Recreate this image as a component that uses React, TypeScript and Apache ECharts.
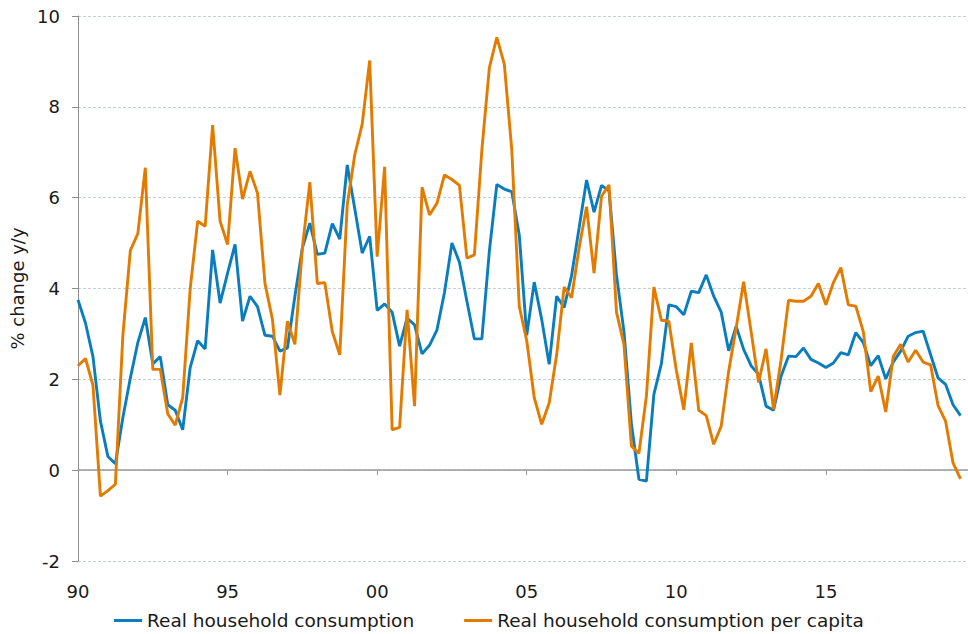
import React, { useEffect, useRef } from 'react';
import * as echarts from 'echarts';

const startYear = 1990;
const quarterCount = 120;
const tickLabels = ['90', '95', '00', '05', '10', '15'];
const seriesNames = ['Real household consumption', 'Real household consumption per capita'];

const consumption = [
  3.75, 3.24, 2.5, 1.08, 0.3, 0.14, 1.16, 2.03, 2.81, 3.36,
  2.34, 2.5, 1.44, 1.32, 0.89, 2.26, 2.85, 2.67, 4.85, 3.68,
  4.34, 4.97, 3.28, 3.83, 3.6, 2.97, 2.95, 2.62, 2.69, 3.83,
  4.89, 5.44, 4.75, 4.78, 5.43, 5.09, 6.72, 5.76, 4.78, 5.15,
  3.52, 3.66, 3.48, 2.73, 3.35, 3.2, 2.56, 2.75, 3.09, 3.91,
  5.0, 4.58, 3.72, 2.89, 2.89, 4.82, 6.29, 6.19, 6.13, 5.18,
  2.97, 4.14, 3.32, 2.33, 3.83, 3.58, 4.29, 5.33, 6.39, 5.68,
  6.27, 6.15, 4.3, 3.05, 1.01, -0.2, -0.24, 1.67, 2.34, 3.64,
  3.6, 3.42, 3.94, 3.91, 4.3, 3.83, 3.48, 2.63, 3.17, 2.66,
  2.3, 2.11, 1.41, 1.32, 2.07, 2.51, 2.5, 2.69, 2.44, 2.36,
  2.26, 2.36, 2.59, 2.54, 3.03, 2.81, 2.3, 2.52, 2.01, 2.38,
  2.62, 2.95, 3.03, 3.06, 2.54, 2.03, 1.89, 1.44, 1.2,
];

const perCapita = [
  2.3, 2.46, 1.87, -0.57, -0.45, -0.31, 2.97, 4.84, 5.21, 6.66,
  2.22, 2.22, 1.24, 0.99, 1.6, 3.99, 5.48, 5.37, 7.6, 5.48,
  4.97, 7.09, 5.97, 6.58, 6.1, 4.11, 3.32, 1.65, 3.28, 2.77,
  4.89, 6.34, 4.11, 4.13, 3.05, 2.54, 5.84, 6.94, 7.62, 9.02,
  4.7, 6.68, 0.89, 0.94, 3.53, 1.41, 6.23, 5.62, 5.88, 6.5,
  6.4, 6.27, 4.67, 4.74, 7.05, 8.86, 9.53, 8.94, 7.05, 3.61,
  2.85, 1.6, 1.01, 1.48, 2.54, 4.03, 3.8, 4.89, 5.8, 4.34,
  6.03, 6.28, 3.48, 2.77, 0.53, 0.37, 1.63, 4.03, 3.3, 3.28,
  2.2, 1.33, 2.8, 1.32, 1.2, 0.57, 0.97, 2.18, 3.13, 4.15,
  3.05, 1.93, 2.67, 1.34, 2.42, 3.74, 3.72, 3.72, 3.83, 4.11,
  3.64, 4.13, 4.46, 3.64, 3.61, 3.05, 1.73, 2.07, 1.28, 2.5,
  2.77, 2.38, 2.64, 2.38, 2.32, 1.42, 1.08, 0.16, -0.19,
];

const categories = Array.from({ length: quarterCount }, (_, i) => {
  const yy = String((startYear + Math.floor(i / 4)) % 100).padStart(2, '0');
  return `${yy}Q${(i % 4) + 1}`;
});

const FONT = 'DejaVu Sans';
const TEXT = '#1a1a1a';
const BLUE = '#0A7DBE';
const ORANGE = '#E27B00';

export default function App() {
  const ref = useRef<HTMLDivElement>(null);

  useEffect(() => {
    if (!ref.current) return;
    const chart = echarts.init(ref.current, undefined, { renderer: 'svg' });
    const option: any = {
      animation: false,
      backgroundColor: '#ffffff',
      textStyle: { fontFamily: FONT },
      grid: { left: 78, right: 0, top: 16, bottom: 73, containLabel: false },
      legend: {
        left: 109,
        top: 606,
        icon: 'rect',
        itemWidth: 28,
        itemHeight: 3,
        itemGap: 50,
        textStyle: { fontSize: 18.5, color: TEXT, fontFamily: FONT },
        data: seriesNames,
      },
      xAxis: [
        {
          type: 'category',
          data: categories,
          boundaryGap: false,
          position: 'bottom',
          axisLine: { show: false, onZero: false },
          axisTick: { show: false },
          splitLine: { show: false },
          axisLabel: {
            interval: (i: number) => i % 20 === 0,
            formatter: (_v: string, i: number) => tickLabels[i / 20] ?? '',
            margin: 21,
            fontSize: 18,
            color: TEXT,
            fontFamily: FONT,
          },
        },
        {
          type: 'category',
          data: categories,
          boundaryGap: false,
          position: 'bottom',
          axisLine: { show: true, onZero: true, lineStyle: { color: '#9a9a9a', width: 1.5 } },
          axisTick: {
            show: true,
            interval: (i: number) => i % 20 === 0,
            length: 5,
            lineStyle: { color: '#9a9a9a', width: 1 },
          },
          axisLabel: { show: false },
          splitLine: { show: false },
        },
      ],
      yAxis: {
        type: 'value',
        min: -2,
        max: 10,
        interval: 2,
        name: '% change y/y',
        nameLocation: 'middle',
        nameRotate: 90,
        nameGap: 43,
        nameTextStyle: { fontSize: 18, color: TEXT, fontFamily: FONT },
        axisLine: { show: true, onZero: false, lineStyle: { color: '#8c8c8c', width: 1 } },
        axisTick: { show: true, length: 6, lineStyle: { color: '#8c8c8c' } },
        axisLabel: { margin: 18, fontSize: 18, color: TEXT, fontFamily: FONT },
        splitLine: { show: true, lineStyle: { color: '#c3cfd9', type: [3, 2], width: 1 } },
      },
      series: [
        {
          name: seriesNames[0],
          type: 'line',
          data: consumption,
          xAxisIndex: 0,
          showSymbol: false,
          symbol: 'none',
          color: BLUE,
          lineStyle: { color: BLUE, width: 2.9 },
          z: 3,
        },
        {
          name: seriesNames[1],
          type: 'line',
          data: perCapita,
          xAxisIndex: 0,
          showSymbol: false,
          symbol: 'none',
          color: ORANGE,
          lineStyle: { color: ORANGE, width: 2.9 },
          z: 4,
        },
      ],
    };
    chart.setOption(option);
    return () => chart.dispose();
  }, []);

  return (
    <div
      ref={ref}
      style={{ position: 'fixed', left: 0, top: 0, width: 968, height: 634, background: '#fff' }}
    />
  );
}
